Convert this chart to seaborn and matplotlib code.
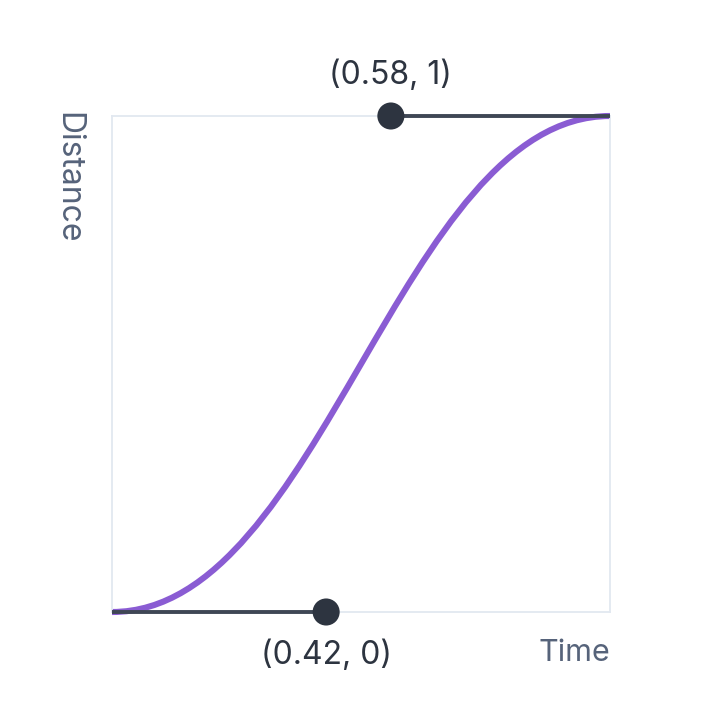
import matplotlib
matplotlib.use("Agg")
import matplotlib.pyplot as plt
from matplotlib.path import Path
from matplotlib.patches import PathPatch
import seaborn as sns
import pandas as pd

# Cubic Bezier control points of the easing curve (time, distance)
ctrl_x = [0.0, 0.42, 0.58, 1.0]
ctrl_y = [0.0, 0.0, 1.0, 1.0]
# handle anchors (corners) and handle dots as they appear in the picture
anchor_x = [0.0, 1.0]
anchor_y = [0.0, 1.0]
handle_x = [0.43, 0.56]
handle_y = [0.0, 1.0]
handle_labels = ["(0.42, 0)", "(0.58, 1)"]
x_label = "Time"
y_label = "Distance"

sns.set_theme(style="white")
plt.rcParams["font.family"] = ["Inter", "DejaVu Sans"]

fig = plt.figure(figsize=(7.24, 7.24), dpi=100)
ax = fig.add_axes([112/724, (724-612)/724, 498/724, 496/724])

purple = "#8a5cd3"
dark = "#2d3440"
linec = "#3f4755"

path = Path(list(zip(ctrl_x, ctrl_y)),
            [Path.MOVETO, Path.CURVE4, Path.CURVE4, Path.CURVE4])
ax.add_patch(PathPatch(path, facecolor="none", edgecolor=purple, lw=4.4,
                       transform=ax.transData, clip_on=False, zorder=2))

# handle lines
for ax_, ay_, hx, hy in zip(anchor_x, anchor_y, handle_x, handle_y):
    ax.plot([ax_, hx], [ay_, hy], color=linec, lw=2.8, clip_on=False,
            zorder=3, solid_capstyle="butt")

df = pd.DataFrame({"x": handle_x, "y": handle_y})
sns.scatterplot(data=df, x="x", y="y", ax=ax, s=380, color=dark,
                edgecolor="none", clip_on=False, zorder=4)

ax.set_xlim(0, 1)
ax.set_ylim(0, 1)
ax.set_xticks([])
ax.set_yticks([])
ax.set_xlabel("")
ax.set_ylabel("")
for s in ax.spines.values():
    s.set_color("#e2e8f0")
    s.set_linewidth(1.3)

ax.annotate(handle_labels[0], (handle_x[0], handle_y[0]), xytext=(0, -31),
            textcoords="offset points", ha="center", va="center",
            fontsize=23, color="#2d3440")
ax.annotate(handle_labels[1], (handle_x[1], handle_y[1]), xytext=(0, 29),
            textcoords="offset points", ha="center", va="center",
            fontsize=23, color="#2d3440")

fig.text(610/724, 1 - 653/724, x_label, ha="right", va="center",
         fontsize=22, color="#56637a")
fig.text(68/724, 1 - 112/724, y_label, ha="center", va="top", rotation=-90,
         fontsize=23, color="#56637a")

fig.savefig("out.png", dpi=100)
